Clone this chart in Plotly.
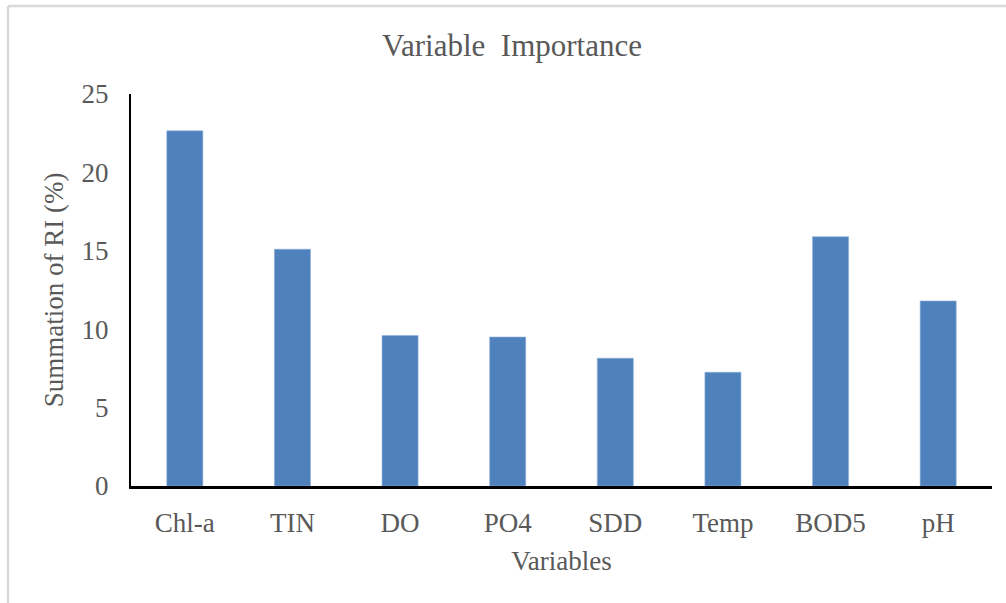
import plotly.graph_objects as go

# Relative importance summed per input variable
variables = ["Chl-a", "TIN", "DO", "PO4", "SDD", "Temp", "BOD5", "pH"]
ri_sum = [22.65, 15.1, 9.6, 9.5, 8.15, 7.25, 15.9, 11.8]

FONT = "Liberation Serif, Times New Roman, serif"
GREY = "#595959"

W, H = 1006, 603
L, R, T, B = 131, 14, 94, 117
pw, ph = W - L - R, H - T - B


def px_to_paper(px, py):
    return (px - L) / pw, (H - B - py) / ph


fig = go.Figure(
    go.Bar(
        x=variables,
        y=ri_sum,
        marker=dict(color="#4F81BD", line=dict(color="#8db0dc", width=0.6)),
        width=0.335,
    )
)

# Light outer frame lines (top and left edges)
x0, y_top = px_to_paper(8, 6)
x1, y_bot = px_to_paper(1006, 603)
frame = [
    dict(type="line", xref="paper", yref="paper", x0=x0, x1=x1, y0=y_top, y1=y_top,
         line=dict(color="#d9d9d9", width=2.5)),
    dict(type="line", xref="paper", yref="paper", x0=x0, x1=x0, y0=y_top, y1=y_bot,
         line=dict(color="#d9d9d9", width=2.5)),
]

fig.update_layout(
    width=W,
    height=H,
    margin=dict(l=L, r=R, t=T, b=B, pad=0),
    paper_bgcolor="white",
    plot_bgcolor="white",
    showlegend=False,
    shapes=frame,
    title=dict(
        text="Variable  Importance",
        font=dict(family=FONT, size=31, color=GREY),
        x=0.509,
        xanchor="center",
        xref="container",
        y=1 - 45 / H,
        yanchor="middle",
        yref="container",
    ),
    xaxis=dict(
        showline=True,
        linecolor="black",
        linewidth=3,
        showgrid=False,
        ticks="",
        tickfont=dict(family=FONT, size=27, color=GREY),
        ticklabelstandoff=11,
        title=dict(text="Variables", font=dict(family=FONT, size=27, color=GREY), standoff=14),
        zeroline=False,
    ),
    yaxis=dict(
        range=[0, 25],
        dtick=5,
        showline=True,
        linecolor="black",
        linewidth=2,
        showgrid=False,
        ticks="",
        zeroline=False,
        tickfont=dict(family=FONT, size=27, color=GREY),
        ticklabelstandoff=15,
        title=dict(text="Summation of RI (%)", font=dict(family=FONT, size=27, color=GREY), standoff=10),
    ),
)

fig.write_html("out.html")
